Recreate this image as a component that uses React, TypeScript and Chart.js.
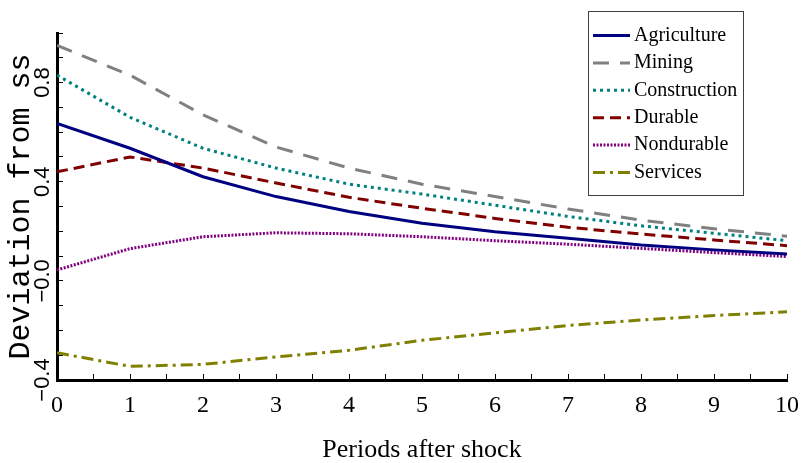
import React, { useEffect, useRef } from 'react';
import { Chart, registerables } from 'chart.js';

Chart.register(...registerables);

// ---- data ----
const periods = [0, 1, 2, 3, 4, 5, 6, 7, 8, 9, 10];
const seriesNames = ['Agriculture', 'Mining', 'Construction', 'Durable', 'Nondurable', 'Services'];
const agriculture = [0.635, 0.535, 0.42, 0.34, 0.28, 0.232, 0.198, 0.172, 0.145, 0.125, 0.108];
const mining = [0.95, 0.83, 0.67, 0.54, 0.455, 0.39, 0.34, 0.29, 0.245, 0.21, 0.18];
const construction = [0.83, 0.66, 0.535, 0.455, 0.39, 0.35, 0.305, 0.26, 0.222, 0.192, 0.162];
const durable = [0.44, 0.5, 0.455, 0.395, 0.337, 0.293, 0.252, 0.216, 0.189, 0.165, 0.142];
const nondurable = [0.044, 0.13, 0.178, 0.194, 0.19, 0.178, 0.162, 0.148, 0.131, 0.114, 0.098];
const services = [-0.29, -0.345, -0.337, -0.307, -0.28, -0.24, -0.21, -0.18, -0.158, -0.14, -0.125];

const xTitle = 'Periods after shock';
const yTitle = 'Deviation from ss';
const yLabelValues = [0.8, 0.4, 0, -0.4];
const yLabelTexts = ['0.8', '0.4', '\u22120.0', '\u22120.4'];

const colors = ['#000080', '#808080', '#008080', '#800000', '#800080', '#808000'];
const dashes: number[][] = [[], [16, 11], [3, 4], [11, 6], [2, 1.5], [12, 5, 3, 5]];

const legendBoxPlugin = {
  id: 'legendBox',
  afterDraw(chart: any) {
    const ctx = chart.ctx as CanvasRenderingContext2D;
    const left = 588.5, top = 11.5, w = 155, h = 184;
    ctx.save();
    ctx.setLineDash([]);
    ctx.fillStyle = '#ffffff';
    ctx.fillRect(left, top, w, h);
    ctx.strokeStyle = '#404040';
    ctx.lineWidth = 1;
    ctx.strokeRect(left, top, w, h);
    chart.data.datasets.forEach((ds: any, i: number) => {
      const y = 35.5 + i * 27.4;
      ctx.strokeStyle = ds.borderColor;
      ctx.lineWidth = ds.borderWidth;
      ctx.setLineDash(ds.borderDash || []);
      ctx.beginPath();
      ctx.moveTo(593, y);
      ctx.lineTo(630, y);
      ctx.stroke();
      ctx.setLineDash([]);
      ctx.fillStyle = '#000';
      ctx.font = '20px "Liberation Serif"';
      ctx.textBaseline = 'middle';
      ctx.textAlign = 'left';
      ctx.fillText(ds.label, 634, y);
    });
    ctx.restore();
  },
};

export default function App() {
  const canvasRef = useRef<HTMLCanvasElement | null>(null);

  useEffect(() => {
    const canvas = canvasRef.current;
    if (!canvas) return;
    const seriesData = [agriculture, mining, construction, durable, nondurable, services];
    const datasets = seriesData.map((arr, k) => ({
      label: seriesNames[k],
      data: periods.map((p, i) => ({ x: p, y: arr[i] })),
      borderColor: colors[k],
      backgroundColor: colors[k],
      borderWidth: 3,
      borderDash: dashes[k],
      pointRadius: 0,
      tension: 0,
      fill: false,
    }));

    const gridOpts = {
      drawOnChartArea: false,
      drawTicks: true,
      tickLength: -6,
      color: '#000',
      tickColor: '#000',
      tickWidth: 1,
    };
    const borderOpts = { display: true, color: '#000', width: 3 };

    const chart = new Chart(canvas, {
      type: 'line',
      data: { datasets },
      options: {
        animation: false,
        responsive: false,
        devicePixelRatio: 1,
        layout: { padding: { left: 0, top: 33, right: 14, bottom: 0 } },
        plugins: { legend: { display: false }, tooltip: { enabled: false } },
        scales: {
          x: {
            type: 'linear',
            min: 0,
            max: 10,
            afterFit: (s: any) => {
              s.height = 83;
              s.paddingLeft = 0;
              s.paddingRight = 0;
            },
            grid: gridOpts,
            border: borderOpts,
            ticks: {
              stepSize: 0.5,
              autoSkip: false,
              maxRotation: 0,
              minRotation: 0,
              padding: 17,
              color: '#000',
              font: { family: 'Liberation Serif', size: 24 },
              callback: (v: any) => (Number.isInteger(v) ? String(v) : ''),
            },
            title: {
              display: true,
              text: xTitle,
              color: '#000',
              font: { family: 'Liberation Serif', size: 26, lineHeight: 1 },
              padding: { top: 0, bottom: 0 },
            },
          },
          y: {
            type: 'linear',
            min: -0.4,
            max: 1.0,
            afterFit: (s: any) => {
              s.width = 57;
              s.paddingTop = 0;
              s.paddingBottom = 0;
            },
            grid: gridOpts,
            border: borderOpts,
            ticks: {
              stepSize: 0.1,
              autoSkip: false,
              minRotation: 90,
              maxRotation: 90,
              crossAlign: 'center',
              padding: -2,
              color: '#000',
              font: { family: 'Liberation Sans', size: 22 },
              callback: (v: any) => {
                const idx = yLabelValues.findIndex((t) => Math.abs(t - Number(v)) < 1e-6);
                return idx >= 0 ? yLabelTexts[idx] : '';
              },
            },
            title: {
              display: true,
              text: yTitle,
              color: '#000',
              font: { family: 'Liberation Mono', size: 30, lineHeight: 1 },
              padding: { top: 6, bottom: 0 },
            },
          },
        },
      } as any,
      plugins: [legendBoxPlugin],
    });
    return () => chart.destroy();
  }, []);

  return (
    <div style={{ position: 'absolute', left: 0, top: 0, width: 801, height: 463, background: '#fff' }}>
      <canvas ref={canvasRef} width={801} height={463} style={{ display: 'block' }} />
    </div>
  );
}
